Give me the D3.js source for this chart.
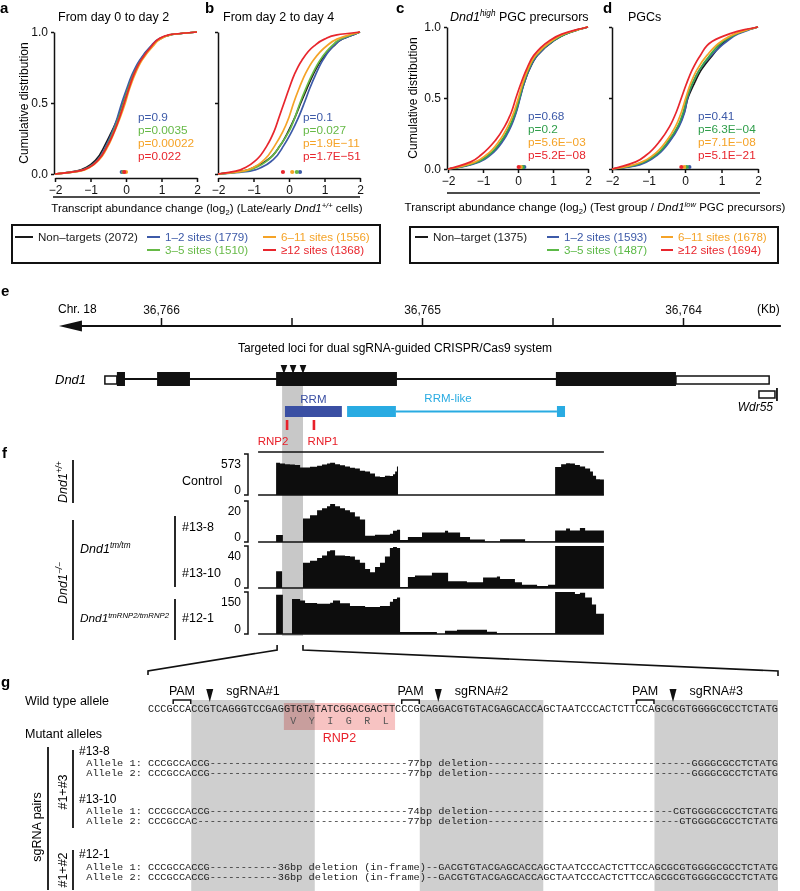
<!DOCTYPE html>
<html><head><meta charset="utf-8">
<script src="https://cdn.jsdelivr.net/npm/d3@7"></script>
<style>
body{margin:0;background:#fff}
svg{font-family:"Liberation Sans",Arial,Helvetica,sans-serif}
</style>
</head><body>
<script>
// ---------------- DATA ----------------
const quantLevels = [0,0.02,0.05,0.1,0.2,0.3,0.4,0.5,0.6,0.7,0.8,0.9,0.95,0.98,1];
// rows: Non-targets, 1-2, 3-5, 6-11, >=12  (x value at each cumulative level)
const cdfA = [
 [-2,-1.4,-1.1,-0.85,-0.6,-0.4,-0.22,-0.08,0.05,0.2,0.4,0.72,0.95,1.25,2],
 [-2,-1.35,-1.05,-0.8,-0.56,-0.38,-0.24,-0.12,0.02,0.17,0.38,0.7,0.92,1.25,2],
 [-2,-1.33,-1.03,-0.78,-0.53,-0.35,-0.2,-0.07,0.06,0.21,0.42,0.74,0.95,1.25,2],
 [-2,-1.3,-1.0,-0.76,-0.5,-0.32,-0.16,-0.02,0.1,0.25,0.45,0.76,0.97,1.25,2],
 [-2,-1.35,-1.02,-0.78,-0.52,-0.33,-0.18,-0.05,0.08,0.22,0.42,0.72,0.92,1.2,2]
];
const cdfB = [
 [-2,-1.3,-0.95,-0.6,-0.25,-0.02,0.17,0.33,0.5,0.68,0.9,1.25,1.5,1.8,2],
 [-2,-1.1,-0.75,-0.45,-0.15,0.08,0.27,0.43,0.58,0.75,0.95,1.25,1.5,1.8,2],
 [-2,-1.25,-0.9,-0.58,-0.25,0.0,0.17,0.31,0.47,0.65,0.87,1.2,1.45,1.75,2],
 [-2,-1.3,-0.98,-0.7,-0.4,-0.17,0.0,0.13,0.28,0.45,0.68,1.05,1.35,1.7,2],
 [-2,-1.5,-1.2,-0.92,-0.62,-0.42,-0.28,-0.14,0.0,0.15,0.36,0.7,1.0,1.35,2]
];
const cdfC = [
 [-2,-1.55,-1.15,-0.82,-0.45,-0.22,-0.06,0.05,0.17,0.32,0.55,1.0,1.35,1.7,2],
 [-2,-1.5,-1.1,-0.78,-0.42,-0.2,-0.05,0.06,0.17,0.32,0.55,1.0,1.35,1.7,2],
 [-2,-1.55,-1.15,-0.83,-0.47,-0.24,-0.08,0.04,0.15,0.3,0.52,0.98,1.35,1.7,2],
 [-2,-1.6,-1.22,-0.9,-0.53,-0.29,-0.12,0.01,0.13,0.28,0.5,0.95,1.3,1.7,2],
 [-2,-1.7,-1.35,-1.05,-0.65,-0.38,-0.19,-0.06,0.08,0.24,0.45,0.88,1.25,1.65,2]
];
const cdfD = [
 [-2,-1.45,-1.1,-0.78,-0.42,-0.18,-0.02,0.08,0.25,0.45,0.75,1.1,1.4,1.7,2],
 [-2,-1.4,-1.05,-0.75,-0.4,-0.16,-0.01,0.07,0.2,0.4,0.72,1.15,1.45,1.75,2],
 [-2,-1.5,-1.12,-0.8,-0.45,-0.2,-0.05,0.05,0.2,0.4,0.68,1.05,1.4,1.7,2],
 [-2,-1.55,-1.18,-0.86,-0.5,-0.26,-0.1,0.02,0.15,0.33,0.6,1.0,1.35,1.7,2],
 [-2,-1.7,-1.35,-1.05,-0.68,-0.42,-0.24,-0.1,0.04,0.2,0.42,0.75,1.2,1.6,2]
];
// medians (blue, green, orange, red)
const medA = [-0.12,-0.08,0.0,-0.05];
const medB = [0.31,0.22,0.09,-0.17];
const medC = [0.18,0.14,0.08,0.02];
const medD = [0.12,0.05,-0.02,-0.1];
const pA = ["p=0.9","p=0.0035","p=0.00022","p=0.022"];
const pB = ["p=0.1","p=0.027","p=1.9E\u221211","p=1.7E\u221251"];
const pC = ["p=0.68","p=0.2","p=5.6E\u221203","p=5.2E\u221208"];
const pD = ["p=0.41","p=6.3E\u221204","p=7.1E\u221208","p=5.1E\u221221"];
const xTicks = [-2,-1,0,1,2];
const yTicks = [0,0.5,1];
const legendAB = ["Non\u2013targets (2072)","1\u20132 sites (1779)","3\u20135 sites (1510)","6\u201311 sites (1556)","\u226512 sites (1368)"];
const legendCD = ["Non\u2013target (1375)","1\u20132 sites (1593)","3\u20135 sites (1487)","6\u201311 sites (1678)","\u226512 sites (1694)"];

// genomic (kb on chr18)
const chrTicks = [36766,36765.5,36765,36764.5,36764];
const chrLabels = [36766,36765,36764];
const chrSpan = [36766.391,36763.625];
const utrs = [[36766.215,36766.169],[36764.027,36763.670]];
const cdsExons = [[36766.169,36766.138],[36766.015,36765.889],[36765.559,36765.096],[36764.487,36764.027]];
const wdr55 = [36763.709,36763.640];
const rrm = [36765.525,36765.307];
const rrmLike = [[36765.287,36765.100],[36764.483,36764.452]];
const rnpPos = [["RNP2",36765.517],["RNP1",36765.414]];
const sgTargets = [36765.529,36765.494,36765.456];
const targetBand = [36765.536,36765.456];
const trackSpan = [36765.628,36764.303];
const trackNames = ["Control","#13-8","#13-10","#12-1"];
const trackMax = [573,20,40,150];
const covControl = [[36765.628,0],[36765.559,450],[36765.544,440],[36765.525,430],[36765.506,425],[36765.487,420],[36765.467,385],[36765.448,385],[36765.429,395],[36765.402,410],[36765.383,425],[36765.364,440],[36765.352,450],[36765.333,430],[36765.314,415],[36765.295,400],[36765.276,380],[36765.257,370],[36765.238,340],[36765.218,330],[36765.199,300],[36765.180,260],[36765.161,250],[36765.142,270],[36765.123,265],[36765.111,290],[36765.103,330],[36765.096,400],[36765.092,0],[36764.490,390],[36764.467,430],[36764.448,445],[36764.433,440],[36764.414,420],[36764.395,400],[36764.375,370],[36764.356,330],[36764.345,270],[36764.333,220],[36764.318,215],[36764.303,215]];
const cov13_8 = [[36765.628,0],[36765.559,3.4],[36765.533,0],[36765.456,11.5],[36765.429,13],[36765.402,15.5],[36765.383,16.5],[36765.364,17.5],[36765.352,18.5],[36765.333,17.5],[36765.314,16.5],[36765.295,15.5],[36765.276,14.5],[36765.257,12.5],[36765.238,11],[36765.218,3],[36765.180,3.5],[36765.123,4],[36765.111,5.5],[36765.096,6],[36765.084,1],[36765.054,2.4],[36765.000,4.6],[36764.943,4.6],[36764.912,5.5],[36764.900,4.6],[36764.854,2.4],[36764.816,1.2],[36764.759,0.2],[36764.701,1.4],[36764.605,0.2],[36764.490,5.6],[36764.448,6.6],[36764.433,5.6],[36764.395,6.8],[36764.375,5.6],[36764.303,5.6]];
const cov13_10 = [[36765.628,0],[36765.559,16],[36765.536,0],[36765.456,24],[36765.429,26],[36765.402,28.5],[36765.383,31],[36765.364,35],[36765.352,36],[36765.333,31],[36765.314,31],[36765.295,30.5],[36765.276,30],[36765.257,27],[36765.238,24],[36765.218,18],[36765.199,15],[36765.180,20],[36765.161,24],[36765.142,30],[36765.123,38],[36765.111,39],[36765.096,38],[36765.084,1],[36765.054,10.5],[36765.027,12],[36764.962,14.5],[36764.900,6.5],[36764.828,5.5],[36764.766,10],[36764.713,11],[36764.701,8.5],[36764.644,5.5],[36764.617,3],[36764.559,2],[36764.517,3],[36764.490,40],[36764.303,40]];
const cov12_1 = [[36765.628,0],[36765.559,140],[36765.533,0],[36765.498,125],[36765.467,120],[36765.448,111],[36765.402,108],[36765.352,112],[36765.341,120],[36765.314,110],[36765.276,100],[36765.218,96],[36765.161,100],[36765.123,115],[36765.111,125],[36765.096,130],[36765.084,7],[36764.943,0],[36764.912,12],[36764.866,15],[36764.751,8],[36764.713,3],[36764.490,150],[36764.414,143],[36764.395,147],[36764.375,130],[36764.349,105],[36764.333,72],[36764.303,72]];

// sequences
const wtSeq = "CCCGCCACCG"+"TCAGGGTCCG"+"AGGTGTATAT"+"CGGACGACTT"+"CCCGCAGGAC"+"GTGTACGAGC"+"ACCAGCTAAT"+"CCCACTCTTC"+"CAGCGCGTGG"+"GGCGCCTCTA"+"TG";
const sgRNAs = [
 {name:"sgRNA#1", pam:[4,7], band:[7,27], cut:10},
 {name:"sgRNA#2", pam:[41,44], band:[44,64], cut:47},
 {name:"sgRNA#3", pam:[79,82], band:[82,102], cut:85}
];
const rnp2Start = 22, rnp2AA = ["V","Y","I","G","R","L"];
const clones = ["#13-8","#13-10","#12-1"];
const alleles = [
 ["CCCGCCACCG"+"-".repeat(32)+"77bp deletion"+"-".repeat(33)+"GGGGCGCCTCTATG",
  "CCCGCCACCG"+"-".repeat(32)+"77bp deletion"+"-".repeat(33)+"GGGGCGCCTCTATG"],
 ["CCCGCCACCG"+"-".repeat(32)+"74bp deletion"+"-".repeat(30)+"CGTGGGGCGCCTCTATG",
  "CCCGCCAC"+"-".repeat(34)+"77bp deletion"+"-".repeat(31)+"GTGGGGCGCCTCTATG"],
 ["CCCGCCACCG"+"-".repeat(11)+"36bp deletion (in-frame)"+"--"+"GACGTGTACGAGCACCAGCTAATCCCACTCTTCCAGCGCGTGGGGCGCCTCTATG",
  "CCCGCCACCG"+"-".repeat(11)+"36bp deletion (in-frame)"+"--"+"GACGTGTACGAGCACCAGCTAATCCCACTCTTCCAGCGCGTGGGGCGCCTCTATG"]
];

// ---------------- DRAW ----------------
const svg = d3.select("body").append("svg").attr("width",800).attr("height",891);
const MONO = '"Liberation Mono","Courier New",monospace';
const colAB = ["#1a1a1a","#3d5aa8","#66b946","#f5a327","#e8262d"];
const colCD = ["#1a1a1a","#3d5aa8","#3aa84b","#f5a327","#e8262d"];
const pColCD = ["#3d5aa8","#2f9e4a","#f5a327","#e8262d"];

function rich(g, x, y, parts, fs, attrs){
  const t = g.append("text").attr("x",x).attr("y",y).attr("font-size",fs);
  if(attrs) for(const k in attrs) t.attr(k,attrs[k]);
  let shift=0;
  parts.forEach(p=>{
    const s=t.append("tspan").text(p.t);
    let target=0,size=fs;
    if(p.sup){target=-fs*0.38;size=fs*0.66;}
    if(p.sub){target=fs*0.25;size=fs*0.66;}
    s.attr("font-size",size);
    if(target!==shift){s.attr("dy",target-shift);shift=target;}
    if(p.it) s.attr("font-style","italic");
  });
  return t;
}
function letter(ch,x,y){svg.append("text").attr("x",x).attr("y",y).attr("font-size",15).attr("font-weight","bold").text(ch);}

const panels = [
 {l:"a",lx:0,title:[{t:"From day 0 to day 2"}],tx:58,xr:[55,197],yr:[174,32],ax:54,xay:178,ylab:true,ylx:28,data:cdfA,med:medA,p:pA,px:138,pb:121,col:colAB,pc:colAB.slice(1)},
 {l:"b",lx:205,title:[{t:"From day 2 to day 4"}],tx:223,xr:[218,360],yr:[174,32],ax:218,xay:178,ylab:false,data:cdfB,med:medB,p:pB,px:303,pb:121,col:colAB,pc:colAB.slice(1)},
 {l:"c",lx:396,title:[{t:"Dnd1",it:true},{t:"high",it:true,sup:true},{t:" PGC precursors"}],tx:450,xr:[448,588],yr:[169,27],ax:447,xay:169,ylab:true,ylx:417,data:cdfC,med:medC,p:pC,px:528,pb:120,col:colCD,pc:pColCD},
 {l:"d",lx:603,title:[{t:"PGCs"}],tx:628,xr:[612,758],yr:[169,27],ax:612,xay:169,ylab:false,data:cdfD,med:medD,p:pD,px:698,pb:120,col:colCD,pc:pColCD}
];
const fmtTick = d => d<0 ? "\u2212"+Math.abs(d) : String(d);
panels.forEach(P=>{
  const g=svg.append("g");
  letter(P.l,P.lx,13);
  rich(g,P.tx,21,P.title,12.5);
  const x=d3.scaleLinear().domain([-2,2]).range(P.xr);
  const y=d3.scaleLinear().domain([0,1]).range(P.yr);
  const ya=g.append("g").attr("transform",`translate(${P.ax},0)`)
    .call(d3.axisLeft(y).tickValues(yTicks).tickSize(3).tickSizeOuter(0).tickPadding(3)
      .tickFormat(P.ylab? d3.format(".1f") : ""));
  const xa=g.append("g").attr("transform",`translate(0,${P.xay})`)
    .call(d3.axisBottom(x).tickValues(xTicks).tickSize(4).tickSizeOuter(0).tickPadding(3).tickFormat(fmtTick));
  [ya,xa].forEach(a=>{a.selectAll("path,line").attr("stroke","#111").attr("stroke-width",1.5);
    a.selectAll("text").attr("font-size",12).attr("fill","#111").style("font-family",'"Liberation Sans",Arial,sans-serif');});
  if(P.ylab){
    g.append("text").attr("transform",`translate(${P.ylx},${(P.yr[0]+P.yr[1])/2}) rotate(-90)`)
     .attr("text-anchor","middle").attr("font-size",12).text("Cumulative distribution");
  }
  const line=d3.line().x(d=>x(d[0])).y(d=>y(d[1])).curve(d3.curveMonotoneY);
  P.data.forEach((row,i)=>{
    g.append("path").attr("d",line(row.map((v,j)=>[v,quantLevels[j]])))
     .attr("fill","none").attr("stroke",P.col[i]).attr("stroke-width",1.7);
  });
  P.med.forEach((m,i)=>{
    g.append("circle").attr("cx",x(m)).attr("cy",y(0)-2).attr("r",2.1).attr("fill",P.col[i+1]);
  });
  P.p.forEach((t,i)=>{
    g.append("text").attr("x",P.px).attr("y",P.pb+i*13).attr("font-size",11.8).attr("fill",P.pc[i]).text(t);
  });
});
svg.append("line").attr("x1",53).attr("x2",360).attr("y1",197).attr("y2",197).attr("stroke","#111").attr("stroke-width",1.6);
rich(svg,207,212,[{t:"Transcript abundance change (log"},{t:"2",sub:true},{t:") (Late/early "},{t:"Dnd1",it:true},{t:"+/+",it:true,sup:true},{t:" cells)"}],11.5,{"text-anchor":"middle"});
svg.append("line").attr("x1",447).attr("x2",760).attr("y1",193).attr("y2",193).attr("stroke","#111").attr("stroke-width",1.6);
rich(svg,595,211,[{t:"Transcript abundance change (log"},{t:"2",sub:true},{t:") (Test group / "},{t:"Dnd1",it:true},{t:"low",it:true,sup:true},{t:" PGC precursors)"}],11.5,{"text-anchor":"middle"});

function legend(box, items, cols, pos){
  svg.append("rect").attr("x",box[0]).attr("y",box[1]).attr("width",box[2]).attr("height",box[3])
    .attr("fill","none").attr("stroke","#111").attr("stroke-width",2);
  items.forEach((t,i)=>{
    const [lx,ly,len]=pos[i];
    svg.append("line").attr("x1",lx).attr("x2",lx+len).attr("y1",ly).attr("y2",ly).attr("stroke",cols[i]).attr("stroke-width",2);
    svg.append("text").attr("x",lx+len+5).attr("y",ly+4).attr("font-size",11.6).attr("fill",cols[i]).text(t);
  });
}
legend([12,225,368,38],legendAB,colAB,[[15,237,18],[147,237,13],[147,250,13],[263,237,13],[263,250,13]]);
legend([410,227,368,36],legendCD,["#1a1a1a","#3d5aa8","#5cb947","#f5a327","#e8262d"],[[415,237,13],[547,237,12],[547,250,12],[661,237,12],[661,250,12]]);

// ---------- panel e ----------
letter("e",1,296);
const gx=d3.scaleLinear().domain([36766,36764]).range([161,683]);
const ax=svg.append("g").attr("transform","translate(0,326)")
  .call(d3.axisTop(gx).tickValues(chrTicks).tickSize(8).tickSizeOuter(0).tickPadding(4)
   .tickFormat(d=>chrLabels.includes(d)? d3.format(",")(d) : ""));
ax.select(".domain").remove();
ax.selectAll("line").attr("stroke","#111").attr("stroke-width",1.5);
ax.selectAll("text").attr("font-size",12).attr("fill","#111").style("font-family",'"Liberation Sans",Arial,sans-serif');
svg.append("line").attr("x1",gx(chrSpan[0])+20).attr("x2",gx(chrSpan[1])).attr("y1",326).attr("y2",326).attr("stroke","#111").attr("stroke-width",1.8);
svg.append("path").attr("d",`M${gx(chrSpan[0])},326 L${gx(chrSpan[0])+23},320.5 L${gx(chrSpan[0])+23},331.5 Z`).attr("fill","#111");
svg.append("text").attr("x",58).attr("y",313).attr("font-size",12).text("Chr. 18");
svg.append("text").attr("x",757).attr("y",313).attr("font-size",12).text("(Kb)");
svg.append("text").attr("x",395).attr("y",352).attr("text-anchor","middle").attr("font-size",12).text("Targeted loci for dual sgRNA-guided CRISPR/Cas9 system");
sgTargets.forEach(p=>{
  const c=gx(p);
  svg.append("path").attr("d",`M${c-3.3},365 L${c+3.3},365 L${c},374 Z`).attr("fill","#111");
});
svg.append("rect").attr("x",gx(targetBand[0])).attr("width",gx(targetBand[1])-gx(targetBand[0]))
  .attr("y",386).attr("height",250).attr("fill","#c8c8c8");
rich(svg,55,384,[{t:"Dnd1",it:true}],13);
svg.append("line").attr("x1",gx(utrs[0][0])).attr("x2",gx(utrs[1][1])).attr("y1",379).attr("y2",379).attr("stroke","#111").attr("stroke-width",1.8);
utrs.forEach(u=>svg.append("rect").attr("x",gx(u[0])).attr("width",gx(u[1])-gx(u[0])).attr("y",376).attr("height",8)
  .attr("fill","#fff").attr("stroke","#111").attr("stroke-width",1.5));
cdsExons.forEach(u=>svg.append("rect").attr("x",gx(u[0])).attr("width",gx(u[1])-gx(u[0])).attr("y",372).attr("height",14).attr("fill","#111"));
svg.append("rect").attr("x",gx(wdr55[0])).attr("width",gx(wdr55[1])-gx(wdr55[0])-2).attr("y",391).attr("height",7)
  .attr("fill","#fff").attr("stroke","#111").attr("stroke-width",1.5);
svg.append("line").attr("x1",gx(wdr55[1])).attr("x2",gx(wdr55[1])).attr("y1",388).attr("y2",401).attr("stroke","#111").attr("stroke-width",1.8);
rich(svg,773,411,[{t:"Wdr55",it:true}],12,{"text-anchor":"end"});
svg.append("text").attr("x",(gx(rrm[0])+gx(rrm[1]))/2).attr("y",403).attr("text-anchor","middle").attr("font-size",11.5).attr("fill","#3a4fa3").text("RRM");
svg.append("rect").attr("x",gx(rrm[0])).attr("width",gx(rrm[1])-gx(rrm[0])).attr("y",406).attr("height",11).attr("fill","#3a4fa3");
svg.append("line").attr("x1",gx(rrmLike[0][1])).attr("x2",gx(rrmLike[1][0])).attr("y1",411.5).attr("y2",411.5).attr("stroke","#29abe2").attr("stroke-width",1.8);
rrmLike.forEach(u=>svg.append("rect").attr("x",gx(u[0])).attr("width",gx(u[1])-gx(u[0])).attr("y",406).attr("height",11).attr("fill","#29abe2"));
svg.append("text").attr("x",448).attr("y",402).attr("text-anchor","middle").attr("font-size",11.5).attr("fill","#29abe2").text("RRM-like");
const rnpOff={"RNP2":-14,"RNP1":9};
rnpPos.forEach(([n,p])=>{
  svg.append("rect").attr("x",gx(p)-1.3).attr("width",2.6).attr("y",420).attr("height",10).attr("fill","#e8202a");
  svg.append("text").attr("x",gx(p)+rnpOff[n]).attr("y",445).attr("text-anchor","middle").attr("font-size",11.5).attr("fill","#e8202a").text(n);
});

// ---------- panel f ----------
letter("f",2,458);
svg.append("line").attr("x1",gx(trackSpan[0])).attr("x2",gx(trackSpan[1])).attr("y1",452).attr("y2",452).attr("stroke","#111").attr("stroke-width",1.5);
const trackTop=[454,501,546,592], trackBot=[495,542,588,634];
const covs=[covControl,cov13_8,cov13_10,cov12_1];
covs.forEach((cv,i)=>{
  const y=d3.scaleLinear().domain([0,trackMax[i]]).range([trackBot[i],trackTop[i]]);
  const area=d3.area().x(d=>gx(d[0])).y0(trackBot[i]).y1(d=>y(d[1])).curve(d3.curveStepAfter);
  svg.append("path").attr("d",area(cv)).attr("fill","#0d0d0d");
  svg.append("line").attr("x1",gx(trackSpan[0])).attr("x2",gx(trackSpan[1])).attr("y1",trackBot[i]).attr("y2",trackBot[i]).attr("stroke","#111").attr("stroke-width",1.5);
  svg.append("path").attr("d",`M244,${trackTop[i]} L248,${trackTop[i]} L248,${trackBot[i]} L244,${trackBot[i]}`)
    .attr("fill","none").attr("stroke","#111").attr("stroke-width",1.5);
  svg.append("text").attr("x",241).attr("y",trackTop[i]+14).attr("text-anchor","end").attr("font-size",12).text(trackMax[i]);
  svg.append("text").attr("x",241).attr("y",trackBot[i]-1).attr("text-anchor","end").attr("font-size",12).text(0);
});
svg.append("text").attr("x",182).attr("y",485).attr("font-size",12.5).text(trackNames[0]);
svg.append("text").attr("x",182).attr("y",531).attr("font-size",12.5).text(trackNames[1]);
svg.append("text").attr("x",182).attr("y",577).attr("font-size",12.5).text(trackNames[2]);
svg.append("text").attr("x",182).attr("y",622).attr("font-size",12.5).text(trackNames[3]);
function vline(x,y1,y2){svg.append("line").attr("x1",x).attr("x2",x).attr("y1",y1).attr("y2",y2).attr("stroke","#111").attr("stroke-width",1.8);}
vline(73,460,503); vline(73,520,640); vline(175,516,587); vline(175,599,640);
rich(svg,0,0,[{t:"Dnd1",it:true},{t:"+/+",it:true,sup:true}],12.5,{"text-anchor":"middle","transform":"translate(67,482) rotate(-90)"});
rich(svg,0,0,[{t:"Dnd1",it:true},{t:"\u2212/\u2212",it:true,sup:true}],12.5,{"text-anchor":"middle","transform":"translate(67,583) rotate(-90)"});
rich(svg,80,553,[{t:"Dnd1",it:true},{t:"tm/tm",it:true,sup:true}],12.5);
rich(svg,80,622,[{t:"Dnd1",it:true},{t:"tmRNP2/tmRNP2",it:true,sup:true}],11.8);

// ---------- panel g ----------
const cx=d3.scaleLinear().domain([0,102]).range([148,778]);
const cw=cx(1)-cx(0);
svg.append("path").attr("d",`M${cx(0)},675 L${cx(0)},671 L${gx(targetBand[0])-5},650 L${gx(targetBand[0])-5},645`).attr("fill","none").attr("stroke","#111").attr("stroke-width",1.6);
svg.append("path").attr("d",`M${gx(targetBand[1])},645 L${gx(targetBand[1])},650 L${cx(102)},671 L${cx(102)},676`).attr("fill","none").attr("stroke","#111").attr("stroke-width",1.6);
letter("g",1,687);
svg.append("text").attr("x",25).attr("y",705).attr("font-size",12.5).text("Wild type allele");
svg.append("text").attr("x",25).attr("y",738).attr("font-size",12.5).text("Mutant alleles");
sgRNAs.forEach(s=>{
  svg.append("rect").attr("x",cx(s.band[0])).attr("width",cx(s.band[1])-cx(s.band[0])).attr("y",700).attr("height",191).attr("fill","#cfcfcf");
});
svg.append("rect").attr("x",cx(rnp2Start)).attr("width",cx(rnp2Start+18)-cx(rnp2Start)).attr("y",703).attr("height",27)
  .attr("fill","#f7c3c2").style("mix-blend-mode","multiply");
rnp2AA.forEach((a,k)=>{
  svg.append("text").attr("x",cx(rnp2Start+3*k+1.5)).attr("y",724).attr("text-anchor","middle").attr("font-family",MONO).attr("font-size",10).attr("fill","#555").text(a);
});
svg.append("text").attr("x",cx(rnp2Start+9)).attr("y",742).attr("text-anchor","middle").attr("font-size",12.5).attr("fill","#e8202a").text("RNP2");
sgRNAs.forEach(s=>{
  svg.append("text").attr("x",cx((s.band[0]+s.band[1])/2)).attr("y",695).attr("text-anchor","middle").attr("font-size",12.5).text(s.name);
  svg.append("text").attr("x",cx((s.pam[0]+s.pam[1])/2)).attr("y",695).attr("text-anchor","middle").attr("font-size",12.5).text("PAM");
  svg.append("path").attr("d",`M${cx(s.pam[0])+0.5},704 L${cx(s.pam[0])+0.5},700 L${cx(s.pam[1])-0.5},700 L${cx(s.pam[1])-0.5},704`)
    .attr("fill","none").attr("stroke","#111").attr("stroke-width",1.5);
  const c=cx(s.cut);
  svg.append("path").attr("d",`M${c-3.5},689 L${c+3.5},689 L${c},702 Z`).attr("fill","#111");
});
function seq(x,y,str,fs){
  svg.append("text").attr("x",x).attr("y",y).attr("font-family",MONO).attr("font-size",fs).attr("fill","#222")
   .attr("textLength",str.length*cw).attr("lengthAdjust","spacingAndGlyphs").style("white-space","pre").text(str);
}
seq(cx(0),712,wtSeq,10.3);
const cloneY=[755,803,858], alleleY=[[766,776],[814,824],[870,880]];
clones.forEach((c,i)=>{
  svg.append("text").attr("x",79).attr("y",cloneY[i]).attr("font-size",12).text(c);
  alleles[i].forEach((a,j)=>seq(cx(-10),alleleY[i][j],`Allele ${j+1}: `+a,8.8));
});
vline(48,747,890); vline(73,750,828); vline(73,850,890);
svg.append("text").attr("transform","translate(67,792) rotate(-90)").attr("text-anchor","middle").attr("font-size",12.5).text("#1+#3");
svg.append("text").attr("transform","translate(67,870) rotate(-90)").attr("text-anchor","middle").attr("font-size",12.5).text("#1+#2");
svg.append("text").attr("transform","translate(41,827) rotate(-90)").attr("text-anchor","middle").attr("font-size",12.5).text("sgRNA pairs");
</script>
</body></html>
